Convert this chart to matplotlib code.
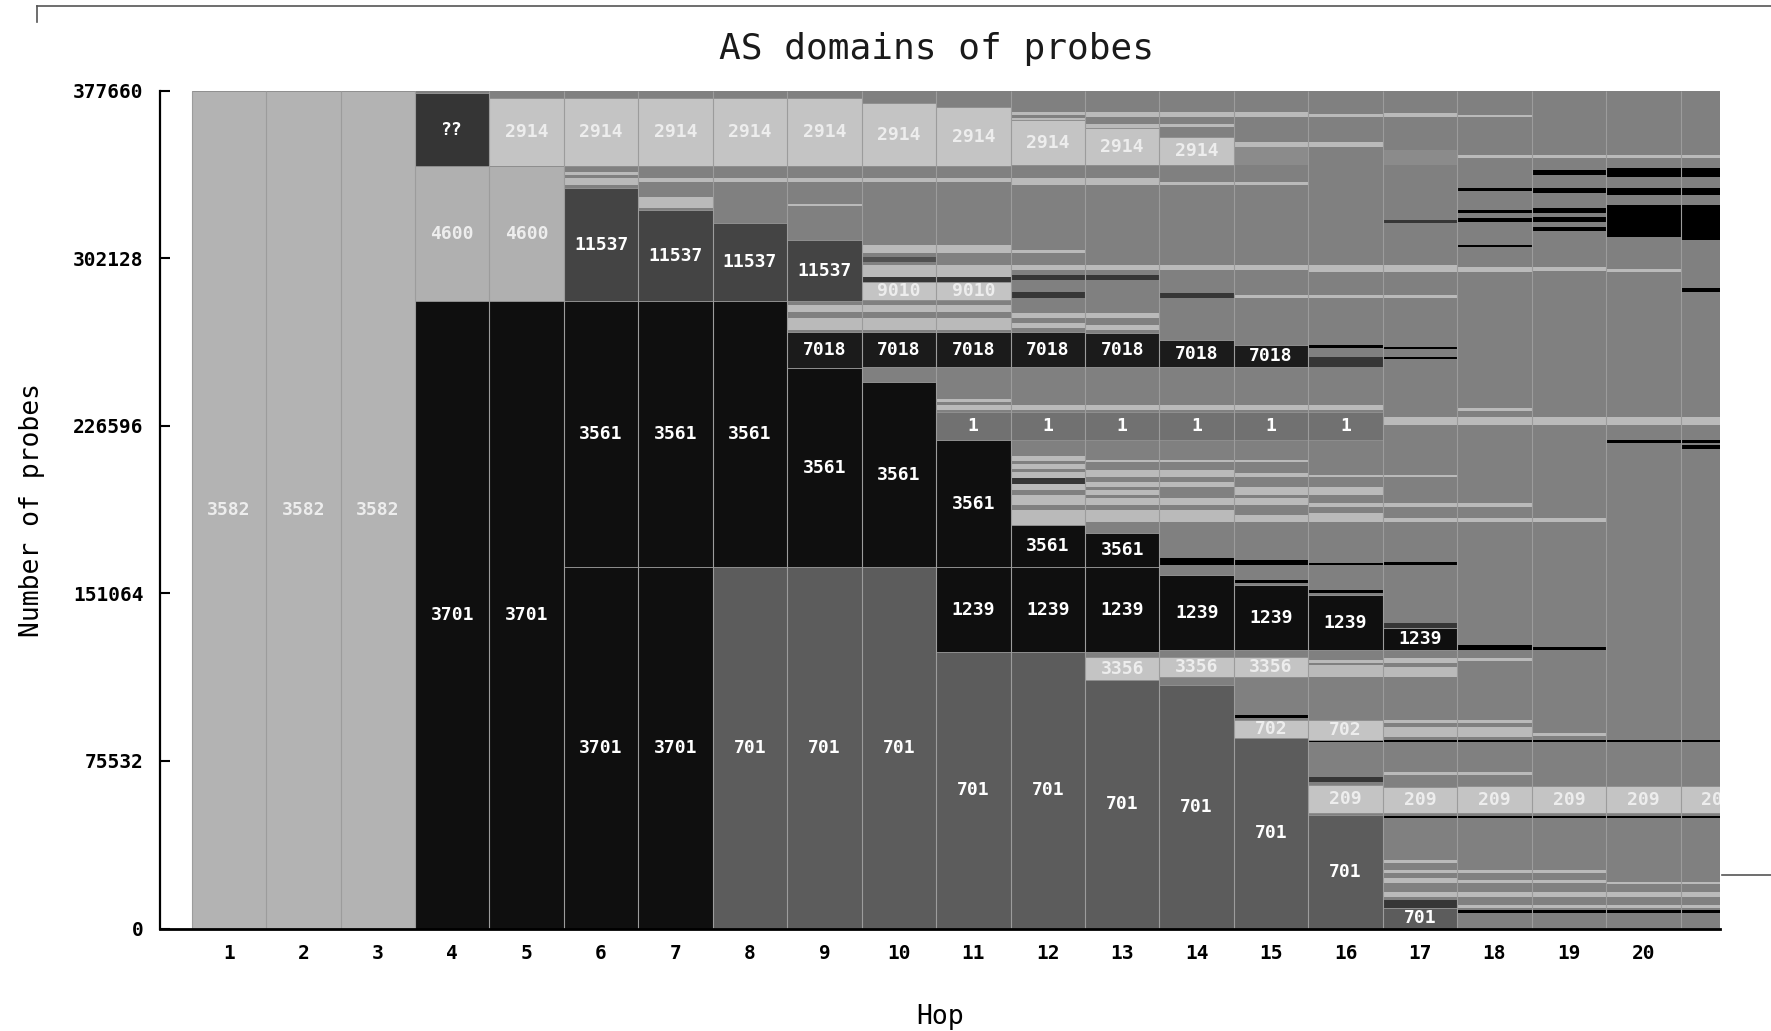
import matplotlib
matplotlib.use("Agg")
import matplotlib.pyplot as plt
from matplotlib.lines import Line2D

# ---------------- data (probe counts per AS segment, bottom -> top) ----------------
hops = list(range(1, 22))
y_ticks = [0, 75532, 151064, 226596, 302128, 377660]
y_tick_labels = ["0", "75532", "151064", "226596", "302128", "377660"]
x_tick_labels = [str(h) for h in range(1, 21)]

hop_01 = [(377660, 'L', '3582')]
hop_02 = [(377660, 'L', '3582')]
hop_03 = [(377660, 'L', '3582')]
hop_04 = [(282800, 'K', '3701'), (60800, 'L4', '4600'), (32880, 'Q', '??'), (1180, 'G', '')]
hop_05 = [(282800, 'K', '3701'), (60800, 'L4', '4600'), (30630, 'P', '2914'), (3430, 'G', '')]
hop_06 = [(162900, 'K', '3701'), (119900, 'K', '3561'), (50900, 'D', '11537'), (1350, 'G', ''),
          (3150, 'S', ''), (1350, 'G', ''), (1350, 'S', ''), (2700, 'G', ''), (30640, 'P', '2914'),
          (3420, 'G', '')]
hop_07 = [(162900, 'K', '3701'), (119900, 'K', '3561'), (40950, 'D', '11537'), (900, 'G', ''),
          (4950, 'S', ''), (6770, 'G', ''), (1800, 'S', ''), (5410, 'G', ''), (30640, 'P', '2914'),
          (3440, 'G', '')]
hop_08 = [(162900, 'M', '701'), (119900, 'K', '3561'), (35100, 'D', '11537'), (18470, 'G', ''),
          (1800, 'S', ''), (5410, 'G', ''), (30640, 'P', '2914'), (3440, 'G', '')]
hop_09 = [(162900, 'M', '701'), (89660, 'K', '3561'), (16210, 'K7', '7018'), (960, 'G', ''),
          (5400, 'S', ''), (2700, 'G', ''), (3150, 'S', ''), (1810, 'G', ''), (27440, 'D', '11537'),
          (15360, 'G', ''), (900, 'S', ''), (9870, 'G', ''), (1800, 'S', ''), (5410, 'G', ''),
          (30640, 'P', '2914'), (3450, 'G', '')]
hop_10 = [(162900, 'M', '701'), (83350, 'K', '3561'), (6760, 'G', ''), (15760, 'K7', '7018'),
          (960, 'G', ''), (5400, 'S', ''), (2700, 'G', ''), (3150, 'S', ''), (2260, 'G', ''),
          (8110, 'P', '9010'), (2250, 'DS', ''), (5410, 'S', ''), (1350, 'G', ''), (2250, 'D2', ''),
          (1800, 'G', ''), (3600, 'S', ''), (28340, 'G', ''), (1800, 'S', ''), (5410, 'G', ''),
          (28390, 'P', '2914'), (5710, 'G', '')]
hop_11 = [(124590, 'M', '701'), (38300, 'K', '1239'), (57230, 'K', '3561'), (12620, 'O', '1'),
          (900, 'G', ''), (2250, 'S', ''), (1350, 'G', ''), (1350, 'S', ''), (14410, 'G', ''),
          (15760, 'K7', '7018'), (960, 'G', ''), (5400, 'S', ''), (2700, 'G', ''), (3150, 'S', ''),
          (2270, 'G', ''), (8110, 'P', '9010'), (2250, 'DS', ''), (5410, 'S', ''), (5410, 'G', ''),
          (3600, 'S', ''), (28340, 'G', ''), (1800, 'S', ''), (5410, 'G', ''), (26590, 'P', '2914'),
          (7500, 'G', '')]
hop_12 = [(124590, 'M', '701'), (38300, 'K', '1239'), (18930, 'K', '3561'), (6760, 'S', ''),
          (2250, 'G', ''), (4500, 'S', ''), (2260, 'G', ''), (2700, 'S', ''), (2710, 'DS', ''),
          (2700, 'S', ''), (1350, 'G', ''), (2250, 'S', ''), (1350, 'G', ''), (2250, 'S', ''),
          (7220, 'G', ''), (12620, 'O', '1'), (900, 'G', ''), (2250, 'S', ''), (17120, 'G', ''),
          (15760, 'K7', '7018'), (1860, 'G', ''), (2250, 'S', ''), (2250, 'G', ''), (2250, 'S', ''),
          (6770, 'G', ''), (2710, 'DS', ''), (5400, 'G', ''), (2260, 'DS', ''), (2250, 'G', ''),
          (2250, 'S', ''), (5410, 'G', ''), (1350, 'S', ''), (29240, 'G', ''), (3160, 'S', ''),
          (5850, 'G', ''), (20300, 'P', '2914'), (900, 'S', ''), (1350, 'G', ''), (1350, 'S', ''),
          (9730, 'G', '')]
hop_13 = [(111970, 'M', '701'), (10370, 'P', '3356'), (2250, 'G', ''), (38300, 'K', '1239'),
          (15320, 'K', '3561'), (4910, 'G', ''), (5460, 'S', ''), (2250, 'G', ''), (3160, 'S', ''),
          (1350, 'G', ''), (2250, 'S', ''), (1350, 'G', ''), (2250, 'S', ''), (2250, 'G', ''),
          (3160, 'S', ''), (3600, 'G', ''), (900, 'S', ''), (9020, 'G', ''), (12620, 'O', '1'),
          (900, 'G', ''), (2250, 'S', ''), (17120, 'G', ''), (15310, 'K7', '7018'), (1410, 'G', ''),
          (2250, 'S', ''), (3150, 'G', ''), (2250, 'S', ''), (14880, 'G', ''), (2260, 'DS', ''),
          (2250, 'G', ''), (2250, 'S', ''), (36000, 'G', ''), (3160, 'S', ''), (5850, 'G', ''),
          (16690, 'P', '2914'), (1810, 'S', ''), (3150, 'G', ''), (2250, 'S', ''), (9730, 'G', '')]
hop_14 = [(109720, 'M', '701'), (3600, 'G', ''), (9020, 'P', '3356'), (3150, 'G', ''),
          (33800, 'K', '1239'), (4500, 'G', ''), (3150, 'B', ''), (16170, 'G', ''), (5460, 'S', ''),
          (2250, 'G', ''), (3160, 'S', ''), (4950, 'G', ''), (2250, 'S', ''), (2250, 'G', ''),
          (3160, 'S', ''), (3600, 'G', ''), (900, 'S', ''), (9020, 'G', ''), (12620, 'O', '1'),
          (900, 'G', ''), (2250, 'S', ''), (17120, 'G', ''), (12170, 'K7', '7018'), (18970, 'G', ''),
          (2250, 'DS', ''), (10370, 'G', ''), (2250, 'S', ''), (36000, 'G', ''), (1350, 'S', ''),
          (7660, 'G', ''), (12640, 'P', '2914'), (4510, 'G', ''), (1350, 'S', ''), (3150, 'G', ''),
          (2250, 'S', ''), (9740, 'G', '')]
hop_15 = [(85840, 'M', '701'), (8110, 'P', '702'), (900, 'G', ''), (1350, 'B', ''), (17120, 'G', ''),
          (9020, 'P', '3356'), (3150, 'G', ''), (29290, 'K', '1239'), (900, 'G', ''), (1350, 'B', ''),
          (6760, 'G', ''), (2260, 'B', ''), (17070, 'G', ''), (3210, 'S', ''), (4500, 'G', ''),
          (3160, 'S', ''), (1350, 'G', ''), (3600, 'S', ''), (4500, 'G', ''), (1810, 'S', ''),
          (4950, 'G', ''), (900, 'S', ''), (9020, 'G', ''), (12620, 'O', '1'), (900, 'G', ''),
          (2250, 'S', ''), (17120, 'G', ''), (9920, 'K7', '7018'), (21220, 'G', ''), (1350, 'S', ''),
          (11270, 'G', ''), (2250, 'S', ''), (36000, 'G', ''), (1350, 'S', ''), (7660, 'G', ''),
          (8140, 'G2', ''), (2250, 'S', ''), (11260, 'G', ''), (2250, 'S', ''), (9730, 'G', '')]
hop_16 = [(51140, 'M', '701'), (900, 'G', ''), (12620, 'P', '209'), (1360, 'G', ''), (2250, 'DS', ''),
          (15770, 'G', ''), (900, 'B', ''), (9010, 'P', '702'), (19370, 'G', ''), (5410, 'S', ''),
          (910, 'G', ''), (1350, 'S', ''), (4500, 'G', ''), (24790, 'K', '1239'), (900, 'G', ''),
          (1350, 'B', ''), (11260, 'G', ''), (900, 'B', ''), (18430, 'G', ''), (4110, 'S', ''),
          (2700, 'G', ''), (1800, 'S', ''), (3610, 'G', ''), (3600, 'S', ''), (4500, 'G', ''),
          (910, 'S', ''), (15770, 'G', ''), (12620, 'O', '1'), (900, 'G', ''), (2250, 'S', ''),
          (17120, 'G', ''), (4550, 'DS', ''), (4030, 'G', ''), (1360, 'B', ''), (21190, 'G', ''),
          (1350, 'S', ''), (10370, 'G', ''), (3150, 'S', ''), (53150, 'G', ''), (2250, 'S', ''),
          (11260, 'G', ''), (1350, 'S', ''), (10640, 'G', '')]
hop_17 = [(9240, 'M', '701'), (3600, 'DS', ''), (1350, 'G', ''), (2260, 'S', ''), (4050, 'G', ''),
          (2250, 'S', ''), (2250, 'G', ''), (1350, 'S', ''), (3150, 'G', ''), (1360, 'S', ''),
          (18920, 'G', ''), (900, 'B', ''), (1350, 'G', ''), (11720, 'P', '209'), (5410, 'G', ''),
          (1350, 'S', ''), (13520, 'G', ''), (900, 'B', ''), (1350, 'G', ''), (4510, 'S', ''),
          (1800, 'G', ''), (1350, 'S', ''), (19370, 'G', ''), (4510, 'S', ''), (1810, 'G', ''),
          (2250, 'S', ''), (3600, 'G', ''), (9920, 'K', '1239'), (2250, 'DS', ''), (26130, 'G', ''),
          (1360, 'B', ''), (17970, 'G', ''), (1800, 'S', ''), (5010, 'G', ''), (1800, 'S', ''),
          (11710, 'G', ''), (910, 'S', ''), (22530, 'G', ''), (3610, 'S', ''), (26170, 'G', ''),
          (900, 'B', ''), (3600, 'G', ''), (900, 'B', ''), (22090, 'G', ''), (1350, 'S', ''),
          (10370, 'G', ''), (3150, 'S', ''), (18930, 'G', ''), (1350, 'DS', ''), (24730, 'G', ''),
          (6790, 'G2', ''), (14860, 'G', ''), (1800, 'S', ''), (10190, 'G', '')]
hop_18 = [(6980, 'G', ''), (1360, 'B', ''), (900, 'G', ''), (1350, 'S', ''), (3600, 'G', ''),
          (2260, 'S', ''), (4050, 'G', ''), (1350, 'S', ''), (3160, 'G', ''), (1350, 'S', ''),
          (23430, 'G', ''), (900, 'B', ''), (1350, 'G', ''), (12170, 'P', '209'), (4960, 'G', ''),
          (1350, 'S', ''), (13520, 'G', ''), (900, 'B', ''), (1350, 'G', ''), (4510, 'S', ''),
          (1800, 'G', ''), (1350, 'S', ''), (26590, 'G', ''), (1350, 'S', ''), (3600, 'G', ''),
          (2250, 'B', ''), (55380, 'G', ''), (1800, 'S', ''), (5010, 'G', ''), (1800, 'S', ''),
          (35150, 'G', ''), (3610, 'S', ''), (2700, 'G', ''), (1350, 'S', ''), (61330, 'G', ''),
          (2250, 'S', ''), (9010, 'G', ''), (900, 'B', ''), (10370, 'G', ''), (1800, 'B', ''),
          (2250, 'G', ''), (1350, 'B', ''), (8550, 'G', ''), (1350, 'B', ''), (13510, 'G', ''),
          (1350, 'S', ''), (17120, 'G', ''), (900, 'S', ''), (11080, 'G', '')]
hop_19 = [(6980, 'G', ''), (1360, 'B', ''), (900, 'G', ''), (1350, 'S', ''), (3600, 'G', ''),
          (2260, 'S', ''), (4050, 'G', ''), (1350, 'S', ''), (3160, 'G', ''), (1350, 'S', ''),
          (23430, 'G', ''), (900, 'B', ''), (1350, 'G', ''), (12170, 'P', '209'), (19830, 'G', ''),
          (900, 'B', ''), (1800, 'G', ''), (1350, 'S', ''), (37400, 'G', ''), (1350, 'B', ''),
          (56280, 'G', ''), (1800, 'S', ''), (41960, 'G', ''), (3610, 'S', ''), (65830, 'G', ''),
          (1800, 'S', ''), (16220, 'G', ''), (1810, 'B', ''), (2250, 'G', ''), (2250, 'B', ''),
          (1800, 'G', ''), (2250, 'B', ''), (6750, 'G', ''), (2250, 'B', ''), (5830, 'G', ''),
          (2250, 'B', ''), (5430, 'G', ''), (1350, 'S', ''), (29100, 'G', '')]
hop_20 = [(6980, 'G', ''), (1360, 'B', ''), (900, 'G', ''), (1350, 'S', ''), (3600, 'G', ''),
          (2260, 'S', ''), (3600, 'G', ''), (900, 'S', ''), (28840, 'G', ''), (900, 'B', ''),
          (1350, 'G', ''), (12170, 'P', '209'), (19830, 'G', ''), (900, 'B', ''), (133830, 'G', ''),
          (1350, 'B', ''), (6760, 'G', ''), (3610, 'S', ''), (65380, 'G', ''), (1350, 'S', ''),
          (14420, 'G', ''), (14410, 'B', ''), (4500, 'G', ''), (3150, 'B', ''), (4930, 'G', ''),
          (4050, 'B', ''), (4530, 'G', ''), (1350, 'S', ''), (29100, 'G', '')]
hop_21 = [(6980, 'G', ''), (1360, 'B', ''), (900, 'G', ''), (1350, 'S', ''), (3600, 'G', ''),
          (2260, 'S', ''), (3600, 'G', ''), (900, 'S', ''), (28840, 'G', ''), (900, 'B', ''),
          (1350, 'G', ''), (12170, 'P', '209'), (19830, 'G', ''), (900, 'B', ''), (131120, 'G', ''),
          (1810, 'B', ''), (900, 'G', ''), (1350, 'B', ''), (6760, 'G', ''), (3610, 'S', ''),
          (56370, 'G', ''), (1800, 'B', ''), (21630, 'G', ''), (15760, 'B', ''), (4500, 'G', ''),
          (3150, 'B', ''), (4930, 'G', ''), (4050, 'B', ''), (4530, 'G', ''), (1350, 'S', ''),
          (29100, 'G', '')]

hop_segments = [hop_01, hop_02, hop_03, hop_04, hop_05, hop_06, hop_07, hop_08, hop_09, hop_10,
                hop_11, hop_12, hop_13, hop_14, hop_15, hop_16, hop_17, hop_18, hop_19, hop_20, hop_21]

# ---------------- styles ----------------
shade = {
    'L': '#b3b3b3', 'L4': '#b0b0b0', 'P': '#c4c4c4', 'S': '#bababa',
    'K': '#0f0f0f', 'K7': '#1b1b1b', 'D': '#444444', 'Q': '#353535',
    'M': '#5c5c5c', 'O': '#717171', 'G': '#808080', 'G2': '#8b8b8b',
    'B': '#000000', 'DS': '#363636', 'D2': '#505050',
}
light_keys = {'L', 'L4', 'P'}
mono = 'DejaVu Sans Mono'

fig = plt.figure(figsize=(17.71, 10.31), dpi=100)
ax = fig.add_axes([0.0903, 0.0994, 0.8809, 0.8128])
ax.set_facecolor('white')

total = y_ticks[-1]
for hop, segs in zip(hops, hop_segments):
    bottom = 0
    for count, key, label in segs:
        if label:
            ax.bar(hop, count, bottom=bottom, width=1.0, color=shade[key],
                   edgecolor='#8e8e8e', linewidth=0.7, zorder=2)
            ax.text(hop, bottom + count / 2, label, ha='center', va='center',
                    color='#ededed' if key in light_keys else 'white',
                    fontsize=13, fontweight='bold', family=mono,
                    clip_on=True, zorder=5)
        else:
            ax.bar(hop, count, bottom=bottom, width=1.0, color=shade[key],
                   linewidth=0, zorder=1)
        bottom += count

# column separators
ax.vlines([h - 0.5 for h in hops], 0, total, colors='#9c9c9c', linewidth=0.8, zorder=3)

ax.set_xlim(0.074, 21.03)
ax.set_ylim(0, total)

ax.set_yticks(y_ticks)
ax.set_yticklabels(y_tick_labels, family=mono, fontweight='bold', fontsize=14)
ax.set_xticks(hops[:20])
ax.set_xticklabels(x_tick_labels, family=mono, fontweight='bold', fontsize=14)
ax.tick_params(axis='y', direction='in', length=7, width=1.5, pad=12, colors='black')
ax.tick_params(axis='x', length=0, pad=11)

for side in ('top', 'right'):
    ax.spines[side].set_visible(False)
ax.spines['left'].set_linewidth(1.6)
ax.spines['bottom'].set_linewidth(2.0)
ax.spines['left'].set_zorder(6)
ax.spines['bottom'].set_zorder(6)

ax.set_xlabel('Hop', fontsize=19, family=mono, labelpad=30)
ax.set_ylabel('Number of probes', fontsize=19, family=mono, labelpad=20)
fig.text(0.529, 0.952, 'AS domains of probes', ha='center', va='center',
         fontsize=26, family=mono, color='#1a1a1a')

# thin frame artifacts of the original screenshot
fig.add_artist(Line2D([0.0209, 1.0], [0.9942, 0.9942], color='#555555', linewidth=1.2))
fig.add_artist(Line2D([0.0209, 0.0209], [0.9942, 0.9787], color='#555555', linewidth=1.2))
fig.add_artist(Line2D([0.9723, 1.0], [0.1513, 0.1513], color='#555555', linewidth=1.2))

fig.savefig('out.png', dpi=100)
